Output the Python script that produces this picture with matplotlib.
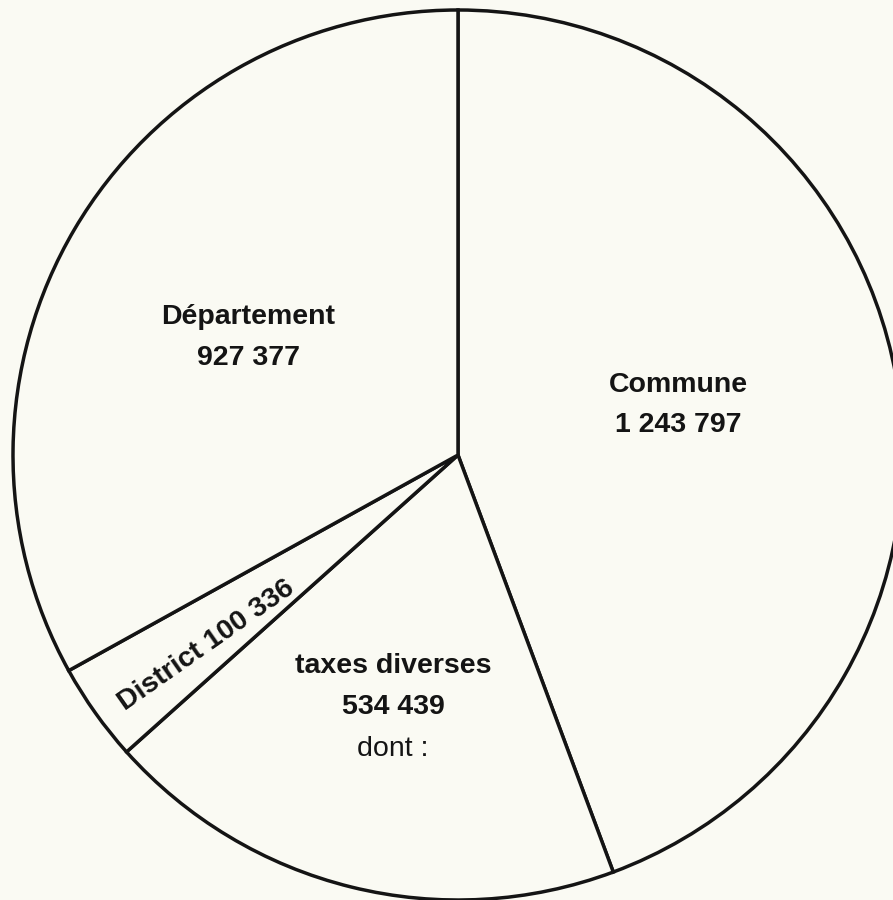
import matplotlib.pyplot as plt

plt.rcParams["font.family"] = ["Liberation Sans", "DejaVu Sans"]

# valeurs
labels = ["Commune", "taxes diverses", "District", "Département"]
values = [1243797, 534439, 100336, 927377]
value_text = ["1 243 797", "534 439", "100 336", "927 377"]

bg = "#fafaf3"
ink = "#141414"

fig = plt.figure(figsize=(8.93, 9.0), dpi=100, facecolor=bg)
ax = fig.add_axes([0, 0, 1, 1])
ax.set_facecolor(bg)

R = 445.0  # rayon en pixels
cx, cy = 458.0, 455.0  # centre (origine en haut a gauche)

wedges, _ = ax.pie(values, startangle=90, counterclock=False, radius=1.0,
                   colors=[bg] * 4,
                   wedgeprops=dict(edgecolor=ink, linewidth=2.5))

ax.set_xlim(-cx / R, (893 - cx) / R)
ax.set_ylim(-(900 - cy) / R, cy / R)
ax.set_aspect("auto")
ax.axis("off")

def px(x, y):
    return (x - cx) / R, (cy - y) / R

fs = 20.5
# Département
ax.text(*px(248, 317), labels[3], ha="center", va="center", fontsize=fs, fontweight="bold", color=ink)
ax.text(*px(248, 358), value_text[3], ha="center", va="center", fontsize=fs, fontweight="bold", color=ink)
# Commune
ax.text(*px(678, 385), labels[0], ha="center", va="center", fontsize=fs, fontweight="bold", color=ink)
ax.text(*px(678, 425), value_text[0], ha="center", va="center", fontsize=fs, fontweight="bold", color=ink)
# taxes diverses
ax.text(*px(393, 666), labels[1], ha="center", va="center", fontsize=fs, fontweight="bold", color=ink)
ax.text(*px(393, 707), value_text[1], ha="center", va="center", fontsize=fs, fontweight="bold", color=ink)
ax.text(*px(393, 749), "dont :", ha="center", va="center", fontsize=fs, color=ink)
# District (texte tourne)
ax.text(*px(206, 645), labels[2] + " " + value_text[2], ha="center", va="center",
        rotation=35, rotation_mode="anchor", fontsize=fs, fontweight="bold", color=ink)

fig.savefig("out.png", dpi=100, facecolor=bg)
